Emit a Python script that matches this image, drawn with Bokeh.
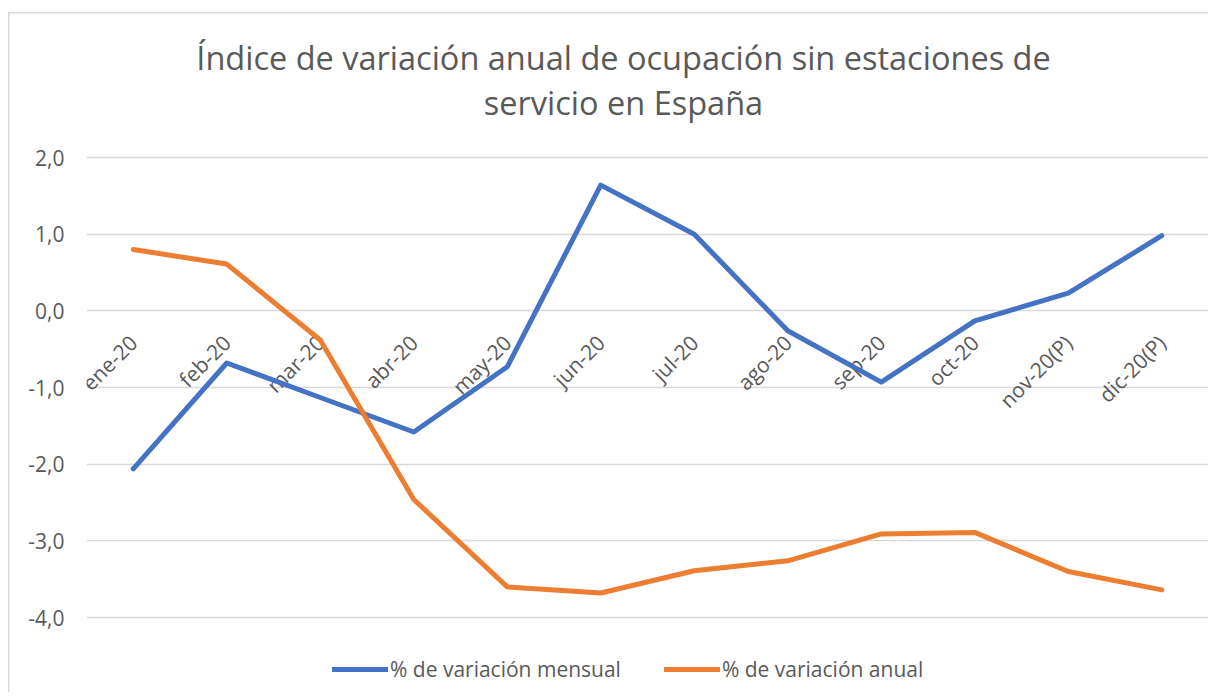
import math
from bokeh.plotting import figure
from bokeh.models import (ColumnDataSource, FactorRange, Range1d, FixedTicker,
                          Legend, LegendItem, Label)
from bokeh.core.properties import value
from bokeh.embed import file_html
from bokeh.resources import INLINE

# ---- data ----
months = ["ene-20", "feb-20", "mar-20", "abr-20", "may-20", "jun-20",
          "jul-20", "ago-20", "sep-20", "oct-20", "nov-20(P)", "dic-20(P)"]
mensual = [-2.06, -0.68, -1.13, -1.58, -0.73, 1.64, 1.00, -0.26, -0.93, -0.13, 0.23, 0.98]
anual = [0.80, 0.61, -0.38, -2.46, -3.60, -3.68, -3.39, -3.26, -2.91, -2.89, -3.40, -3.64]
y_ticks = [-4, -3, -2, -1, 0, 1, 2]
y_tick_labels = ["-4,0", "-3,0", "-2,0", "-1,0", "0,0", "1,0", "2,0"]
title_lines = ["Índice de variación anual de ocupación sin estaciones de",
               "servicio en España"]
series_names = ["% de variación mensual", "% de variación anual"]

FONT = "Open Sans"
TXT = "#595959"
BLUE = "#4472C4"
ORANGE = "#ED7D31"

# frame spans the full height; the value grid occupies -4..2
p = figure(width=1208, height=692, output_backend="svg", toolbar_location=None,
           x_range=FactorRange(*months), y_range=Range1d(-4.978, 4.048),
           min_border_left=86, min_border_right=0, min_border_top=0,
           min_border_bottom=0, title=None)
p.outline_line_color = None
p.background_fill_alpha = 0
p.border_fill_alpha = 0
# chart-area border (left and top edges, inset like the original chart box)
p.styles = {
    "background-color": "white",
    "box-shadow": ("inset 8px 0 0 0 #ffffff, inset 0 12px 0 0 #ffffff, "
                   "inset 9.5px 0 0 0 #D9D9D9, inset 0 13.5px 0 0 #D9D9D9"),
}

# title (two lines)
for txt, yy in zip(title_lines, [3.304, 2.717]):
    p.add_layout(Label(x=537, y=yy, x_units="screen", y_units="data", text=txt,
                       text_align="center", text_baseline="middle",
                       text_font=FONT, text_font_size="32.5px",
                       text_color=TXT))

# axes
p.xaxis.visible = False
p.xgrid.grid_line_color = None
p.yaxis.ticker = FixedTicker(ticks=y_ticks)
p.yaxis.major_label_overrides = dict(zip(y_ticks, y_tick_labels))
p.yaxis.axis_line_color = None
p.yaxis.major_tick_line_color = None
p.yaxis.minor_tick_line_color = None
p.yaxis.major_tick_out = 0
p.yaxis.major_label_standoff = 22
p.yaxis.major_label_text_font = FONT
p.yaxis.major_label_text_font_size = "21px"
p.yaxis.major_label_text_color = TXT
p.ygrid.ticker = FixedTicker(ticks=y_ticks)
p.ygrid.grid_line_color = "#D9D9D9"
p.ygrid.grid_line_width = 1.5

# category labels at the zero line
lab_src = ColumnDataSource(dict(x=months, y=[0] * len(months), t=months))
p.text(x="x", y="y", text="t", source=lab_src, angle=math.pi / 4,
       text_align="right", text_baseline="middle", x_offset=0, y_offset=28,
       text_font=value(FONT), text_font_size="21px", text_color=TXT)

src = ColumnDataSource(dict(x=months, m=mensual, a=anual))
r1 = p.line("x", "m", source=src, line_color=BLUE, line_width=5,
            line_cap="round", line_join="round")
r2 = p.line("x", "a", source=src, line_color=ORANGE, line_width=5,
            line_cap="round", line_join="round")

legend = Legend(items=[LegendItem(label=series_names[0], renderers=[r1]),
                       LegendItem(label=series_names[1], renderers=[r2])],
                orientation="horizontal", location=(246, 9),
                glyph_width=56, glyph_height=20, label_standoff=2, spacing=43,
                padding=0, margin=0, border_line_color=None,
                background_fill_alpha=0, label_text_font=FONT,
                label_text_font_size="21px", label_text_color=TXT)
p.add_layout(legend, "center")

open("out.html", "w").write(file_html(p, INLINE))
